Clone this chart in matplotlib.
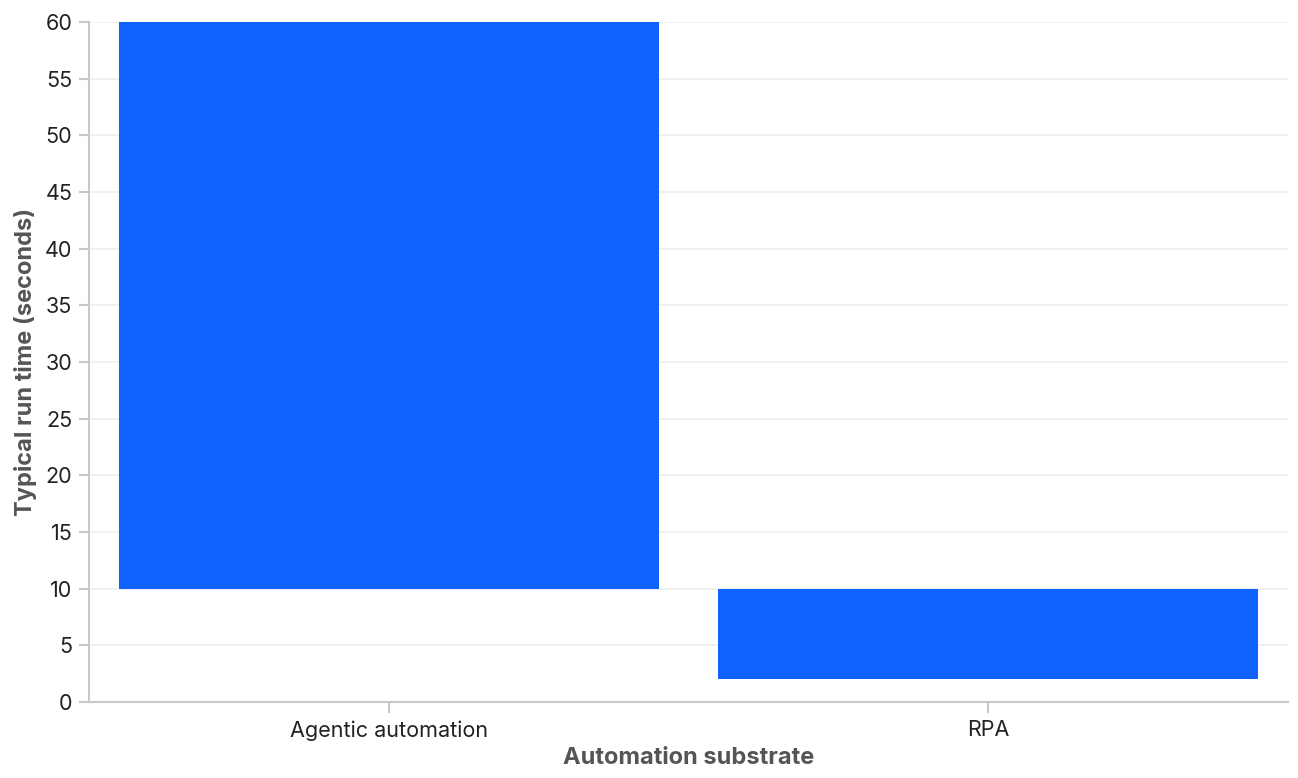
import numpy as np
import matplotlib.pyplot as plt

plt.rcParams['font.family'] = ['Inter', 'DejaVu Sans']

categories = ['Agentic automation', 'RPA']
run_start = np.array([10, 2])
run_end = np.array([60, 10])
yticks = np.arange(0, 61, 5)

fig = plt.figure(figsize=(12.98, 7.78), dpi=100)
ax = fig.add_axes([89/1298, 1-702/778, (1288-89)/1298, (702-22)/778])

x = np.arange(len(categories))
ax.bar(x, run_end - run_start, 0.9, bottom=run_start, color='#1062fe', zorder=3)

ax.set_xlim(-0.5, len(categories) - 0.5)
ax.set_ylim(0, 60)
ax.set_yticks(yticks)
ax.set_xticks(x)
ax.set_xticklabels(categories)
ax.tick_params(axis='both', labelsize=15.5, colors='#c8c8c8', labelcolor='#222222',
               length=7, width=1.5, pad=5)
ax.tick_params(axis='x', length=8)

for s in ['top', 'right']:
    ax.spines[s].set_visible(False)
for s in ['left', 'bottom']:
    ax.spines[s].set_color('#c8c8c8')
    ax.spines[s].set_linewidth(1.5)

ax.grid(axis='y', color='#efefef', linewidth=1.2, zorder=0)
ax.set_axisbelow(True)

ax.set_xlabel('Automation substrate', fontsize=17, fontweight='bold', color='#555555', labelpad=5)
ax.set_ylabel('Typical run time (seconds)', fontsize=17, fontweight='bold', color='#555555', labelpad=6)

plt.savefig('out.png', dpi=100)
